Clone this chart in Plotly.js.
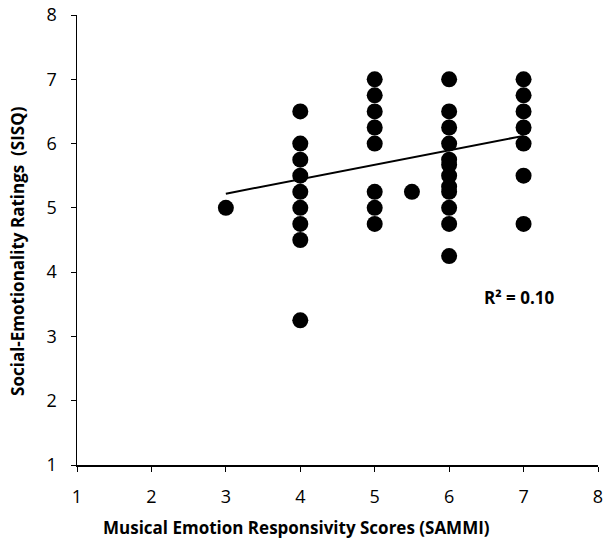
<!DOCTYPE html>
<html>
<head>
<meta charset="utf-8">
<script src="https://cdn.plot.ly/plotly-3.0.1.min.js"></script>
<style>
  html, body { margin: 0; padding: 0; background: #fff; }
  #chart { width: 612px; height: 545px; }
</style>
</head>
<body>
<div id="chart"></div>
<script>
// SAMMI score (x) vs SISQ rating (y), one entry per participant
const sammiScores = [
  3,
  4, 4, 4, 4, 4, 4, 4, 4, 4,
  5, 5, 5, 5, 5, 5, 5, 5,
  5.5,
  6, 6, 6, 6, 6, 6, 6, 6, 6, 6, 6, 6,
  7, 7, 7, 7, 7, 7, 7
];
const sisqRatings = [
  5,
  6.5, 6, 5.75, 5.5, 5.25, 5, 4.75, 4.5, 3.25,
  7, 6.75, 6.5, 6.25, 6, 5.25, 5, 4.75,
  5.25,
  7, 6.5, 6.25, 6, 5.75, 5.67, 5.5, 5.33, 5.25, 5, 4.75, 4.25,
  7, 6.75, 6.5, 6.25, 6, 5.5, 4.75
];

// linear fit endpoints
const fitX = [3, 7];
const fitY = [5.22, 6.12];

const axisTicks = [1, 2, 3, 4, 5, 6, 7, 8];

const xTitle = "Musical Emotion Responsivity Scores (SAMMI)";
const yTitle = "Social-Emotionality Ratings  (SISQ)";
const r2Label = "R² = 0.10";

const tickFont = { family: "Open Sans, Liberation Sans, sans-serif", size: 18, color: "#000" };
const boldFont = { family: "Open Sans, Liberation Sans, sans-serif", size: 17, color: "#000", weight: "bold" };

const traces = [
  {
    type: "scatter",
    mode: "markers",
    x: sammiScores,
    y: sisqRatings,
    marker: { size: 16, color: "#000", symbol: "circle", line: { width: 0 } },
    hoverinfo: "x+y",
    showlegend: false,
  },
  {
    type: "scatter",
    mode: "lines",
    x: fitX,
    y: fitY,
    line: { width: 2, color: "#000" },
    hoverinfo: "skip",
    showlegend: false,
  },
];

const baseAxis = {
  range: [1, 8],
  tickvals: axisTicks,
  ticktext: axisTicks.map(String),
  ticks: "outside",
  ticklen: 5,
  tickcolor: "#000",
  showline: true,
  linecolor: "#000",
  linewidth: 1.5,
  showgrid: false,
  zeroline: false,
  tickfont: tickFont,
};

const layout = {
  width: 612,
  height: 545,
  margin: { l: 77, r: 14, t: 15, b: 80 },
  paper_bgcolor: "#fff",
  plot_bgcolor: "#fff",
  xaxis: { ...baseAxis, ticklabelstandoff: 10 },
  yaxis: { ...baseAxis, ticklabelstandoff: 10 },
  annotations: [
    {
      x: 6.95, y: 3.61, xref: "x", yref: "y",
      xanchor: "center", yanchor: "middle",
      text: r2Label, showarrow: false, font: boldFont,
    },
    {
      x: 0.422, y: -0.138, xref: "paper", yref: "paper",
      xanchor: "center", yanchor: "middle",
      text: xTitle, showarrow: false, font: boldFont,
    },
    {
      x: -0.113, y: 0.476, xref: "paper", yref: "paper",
      xanchor: "center", yanchor: "middle",
      text: yTitle, showarrow: false, textangle: -90, font: boldFont,
    },
  ],
};

Plotly.newPlot("chart", traces, layout, { displayModeBar: false, staticPlot: true });
</script>
</body>
</html>
